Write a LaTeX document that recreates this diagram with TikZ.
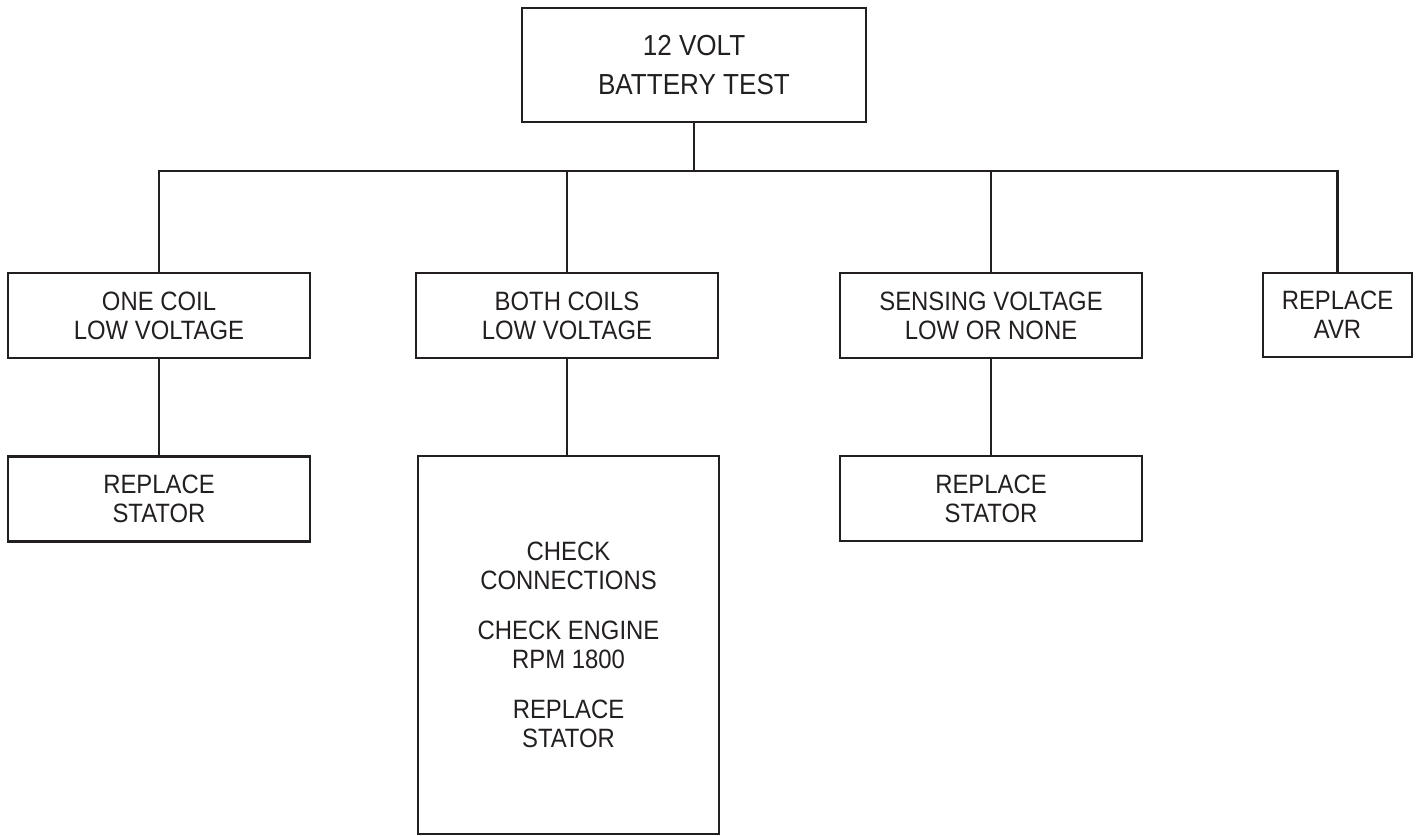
\documentclass[tikz,border=0pt]{standalone}
\usepackage{fontspec}
\setmainfont{Liberation Sans}[FakeStretch=0.9]
\definecolor{ink}{HTML}{231F20}
\begin{document}
\begin{tikzpicture}[x=0.02cm,y=-0.02cm,
    box/.style={draw=ink,line width=1.6pt,text=ink,align=center,inner sep=0pt,
      minimum width=6.04cm,minimum height=1.7cm,font=\fontsize{15.1}{16.5}\selectfont},
    link/.style={draw=ink,line width=1.6pt}]
  \useasboundingbox (0,0) rectangle (1419,835);
  \node[box,minimum width=6.88cm,minimum height=2.28cm,font=\fontsize{16.5}{22.2}\selectfont] (test) at (694,65) {12 VOLT\\BATTERY TEST};
  \node[box] (one) at (159,315.5) {ONE COIL\\LOW VOLTAGE};
  \node[box] (both) at (567,315.5) {BOTH COILS\\LOW VOLTAGE};
  \node[box] (sense) at (991,315.5) {SENSING VOLTAGE\\LOW OR NONE};
  \node[box,minimum width=2.98cm,minimum height=1.68cm] (avr) at (1337.5,315) {REPLACE\\AVR};
  \node[box] (statorA) at (159,499) {REPLACE\\STATOR};
  \node[box,minimum width=6.02cm,minimum height=7.56cm] (checks) at (568.5,645) {CHECK\\CONNECTIONS\\[12pt]CHECK ENGINE\\RPM 1800\\[12pt]REPLACE\\STATOR};
  \node[box] (statorB) at (991,498.5) {REPLACE\\STATOR};
  \draw[link] (test.south) -- (test.south |- 0,171) coordinate (bar);
  \draw[link] (one.north) |- (bar) -| (avr.north);
  \foreach \n in {both,sense}{\draw[link] (\n.north) -- (\n.north |- bar);}
  \draw[link] (one.south) -- (statorA.north);
  \draw[link] (both.south) -- (both.south |- checks.north);
  \draw[link] (sense.south) -- (statorB.north);
\end{tikzpicture}
\end{document}
